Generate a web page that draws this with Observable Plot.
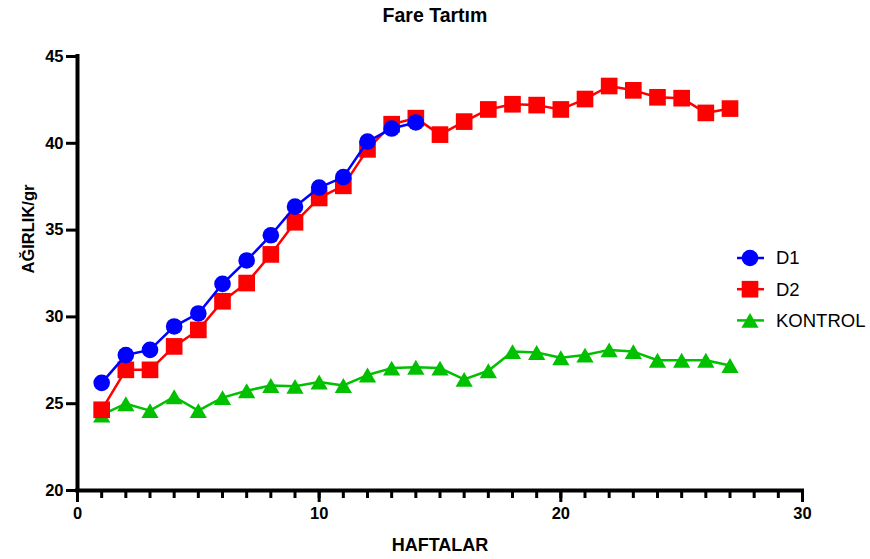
<!DOCTYPE html>
<html>
<head>
<meta charset="utf-8">
<script src="https://cdn.jsdelivr.net/npm/d3@7"></script>
<script src="https://cdn.jsdelivr.net/npm/@observablehq/plot@0.6"></script>
<style>
  body { margin: 0; background: #fff; font-family: "Liberation Sans", Arial, sans-serif; }
  #wrap { position: relative; width: 870px; height: 559px; }
  #title { position: absolute; top: 5px; left: 0; width: 870px; text-align: center;
           font-weight: bold; font-size: 19.5px; line-height: 20px; color: #000; }
  #wrap svg { position: absolute; left: 0; top: 0; }
  #wrap svg g[aria-label$="tick label"] text { font-size: 16.5px; font-weight: bold; }
</style>
</head>
<body>
<div id="wrap"><div id="title">Fare Tartım</div></div>
<script>
// Weekly mean body weight (g) per group
const weeksD1 = [1, 2, 3, 4, 5, 6, 7, 8, 9, 10, 11, 12, 13, 14];
const d1 = [26.2, 27.8, 28.1, 29.45, 30.2, 31.9, 33.25, 34.7, 36.35, 37.45, 38.05, 40.1, 40.85, 41.2];

const weeksD2 = [1, 2, 3, 4, 5, 6, 7, 8, 9, 10, 11, 12, 13, 14, 15, 16, 17, 18, 19, 20, 21, 22, 23, 24, 25, 26, 27];
const d2 = [24.65, 26.95, 26.95, 28.3, 29.25, 30.9, 31.95, 33.6, 35.45, 36.85, 37.55, 39.65, 41.1, 41.45,
            40.5, 41.25, 41.95, 42.25, 42.2, 41.95, 42.55, 43.3, 43.05, 42.65, 42.6, 41.75, 42.0];

const weeksK = [1, 2, 3, 4, 5, 6, 7, 8, 9, 10, 11, 12, 13, 14, 15, 16, 17, 18, 19, 20, 21, 22, 23, 24, 25, 26, 27];
const kontrol = [24.35, 25.0, 24.6, 25.4, 24.6, 25.35, 25.75, 26.05, 26.0, 26.25, 26.05, 26.65, 27.05, 27.1,
                 27.05, 26.4, 26.9, 28.0, 27.95, 27.65, 27.8, 28.1, 28.0, 27.5, 27.5, 27.5, 27.2];

const seriesNames = ["D1", "D2", "KONTROL"];
const seriesColors = ["#0000ff", "#ff0000", "#00c000"];

const xMajorTicks = [0, 10, 20, 30];
const xMinorTicks = [0, 1, 2, 3, 4, 5, 6, 7, 8, 9, 10, 11, 12, 13, 14, 15, 16, 17, 18, 19, 20,
                     21, 22, 23, 24, 25, 26, 27, 28, 29, 30];
const yTicks = [20, 25, 30, 35, 40, 45];

const toRows = (weeks, values, series) => weeks.map((w, i) => ({week: w, weight: values[i], series}));
const rowsD1 = toRows(weeksD1, d1, "D1");
const rowsD2 = toRows(weeksD2, d2, "D2");
const rowsK = toRows(weeksK, kontrol, "KONTROL");

// Upward triangle centred on its bounding box
const triangle = {
  draw(context, size) {
    const s = Math.sqrt(size * 4 / Math.sqrt(3));
    const h = s * Math.sqrt(3) / 2;
    context.moveTo(0, -h / 2);
    context.lineTo(s / 2, h / 2);
    context.lineTo(-s / 2, h / 2);
    context.closePath();
  }
};
const symbols = ["circle", "square", triangle];
const radii = [8.3, 9.4, 6.4];

const font = '"Liberation Sans", Arial, sans-serif';

const chart = Plot.plot({
  width: 870,
  height: 559,
  marginLeft: 77,
  marginRight: 68,
  marginTop: 56,
  marginBottom: 69,
  x: {domain: [0, 30]},
  y: {domain: [20, 45]},
  style: {fontFamily: font, fontSize: "16.5px", fontWeight: "bold", color: "#000",
          background: "transparent", overflow: "visible"},
  marks: [
    // minor week ticks
    Plot.axisX({ticks: xMinorTicks, tickSize: 8, strokeWidth: 3, text: null, label: null}),
    // major ticks with labels
    Plot.axisX({ticks: xMajorTicks, tickSize: 12, strokeWidth: 3, tickPadding: 5, label: null}),
    Plot.axisY({ticks: yTicks, tickSize: 11, strokeWidth: 3, tickPadding: 3, label: null}),
    Plot.ruleY([20], {strokeWidth: 4, strokeLinecap: "square"}),
    Plot.ruleX([0], {strokeWidth: 4, strokeLinecap: "square"}),
    Plot.text(["HAFTALAR"], {frameAnchor: "bottom", dy: 55, lineAnchor: "middle",
                             fontSize: 18, fontWeight: "bold"}),
    Plot.text(["AĞIRLIK/gr"], {frameAnchor: "left", dx: -49, rotate: -90, lineAnchor: "middle",
                               fontSize: 16.5, fontWeight: "bold"}),

    // KONTROL underneath, then D2, then D1 on top
    Plot.line(rowsK, {x: "week", y: "weight", stroke: seriesColors[2], strokeWidth: 2.5}),
    Plot.dot(rowsK, {x: "week", y: "weight", symbol: symbols[2], r: radii[2], fill: seriesColors[2], stroke: "none"}),
    Plot.line(rowsD2, {x: "week", y: "weight", stroke: seriesColors[1], strokeWidth: 2.5}),
    Plot.dot(rowsD2, {x: "week", y: "weight", symbol: symbols[1], r: radii[1], fill: seriesColors[1], stroke: "none"}),
    Plot.line(rowsD1, {x: "week", y: "weight", stroke: seriesColors[0], strokeWidth: 2.5}),
    Plot.dot(rowsD1, {x: "week", y: "weight", symbol: symbols[0], r: radii[0], fill: seriesColors[0], stroke: "none"})
  ]
});

const svg = d3.select(chart);

// Bold, larger tick labels on both axes
svg.selectAll('g[aria-label$="tick label"]')
  .attr("font-size", 16.5).attr("font-weight", "bold");

// Legend on the right: line sample with marker, then the group name
const legend = svg.append("g").attr("transform", "translate(750, 258)");
const d3Symbols = [d3.symbolCircle, d3.symbolSquare, triangle];
seriesNames.forEach((name, i) => {
  const row = legend.append("g").attr("transform", `translate(0, ${i * 31.2})`);
  row.append("line").attr("x1", -13).attr("x2", 14).attr("y1", 0).attr("y2", 0)
    .attr("stroke", seriesColors[i]).attr("stroke-width", 2.5);
  row.append("path")
    .attr("d", d3.symbol(d3Symbols[i], Math.PI * radii[i] * radii[i])())
    .attr("fill", seriesColors[i]);
  row.append("text").attr("x", 26).attr("y", 0).attr("dy", "0.35em")
    .attr("text-anchor", "start")
    .attr("font-family", font).attr("font-size", 18.5).attr("font-weight", "normal")
    .attr("fill", "#000")
    .text(name);
});

document.getElementById("wrap").appendChild(chart);
</script>
</body>
</html>
